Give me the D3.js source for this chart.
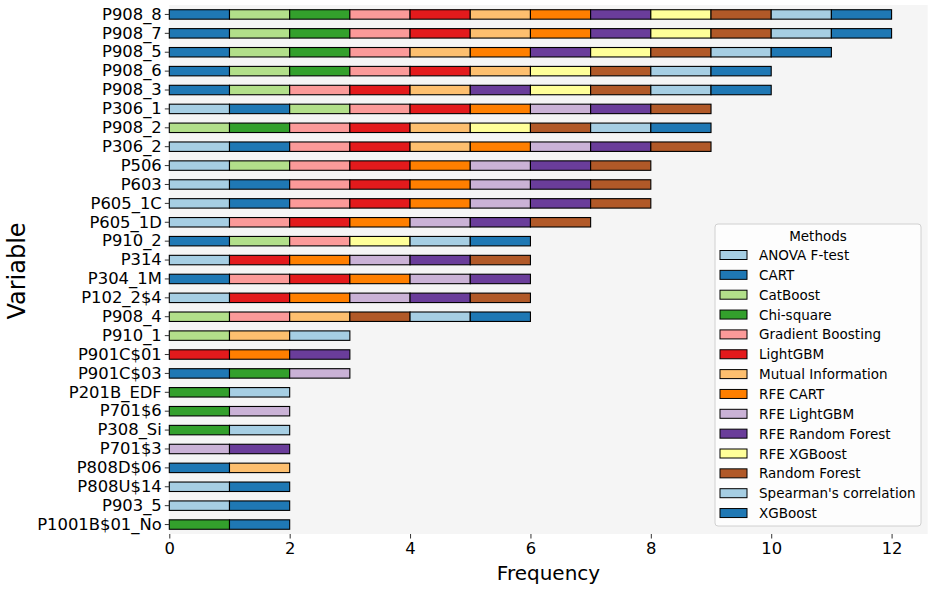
<!DOCTYPE html>
<html>
<head>
<meta charset="utf-8">
<script src="https://cdn.jsdelivr.net/npm/d3@7"></script>
<style>
  body { margin: 0; background: #fff; }
  svg { font-family: "DejaVu Sans", sans-serif; }
</style>
</head>
<body>
<svg id="chart" width="935" height="591"></svg>
<script>
// Feature selection methods (legend order)
const methods = [
  "ANOVA F-test", "CART", "CatBoost", "Chi-square", "Gradient Boosting",
  "LightGBM", "Mutual Information", "RFE CART", "RFE LightGBM",
  "RFE Random Forest", "RFE XGBoost", "Random Forest",
  "Spearman's correlation", "XGBoost"
];

// Variables, top to bottom
const variables = [
  "P908_8", "P908_7", "P908_5", "P908_6", "P908_3", "P306_1", "P908_2",
  "P306_2", "P506", "P603", "P605_1C", "P605_1D", "P910_2", "P314",
  "P304_1M", "P102_2$4", "P908_4", "P910_1", "P901C$01", "P901C$03",
  "P201B_EDF", "P701$6", "P308_Si", "P701$3", "P808D$06", "P808U$14",
  "P903_5", "P1001B$01_No"
];

// Methods that selected each variable (same order as variables)
const selections = [
  ["CART", "CatBoost", "Chi-square", "Gradient Boosting", "LightGBM", "Mutual Information", "RFE CART", "RFE Random Forest", "RFE XGBoost", "Random Forest", "Spearman's correlation", "XGBoost"],
  ["CART", "CatBoost", "Chi-square", "Gradient Boosting", "LightGBM", "Mutual Information", "RFE CART", "RFE Random Forest", "RFE XGBoost", "Random Forest", "Spearman's correlation", "XGBoost"],
  ["CART", "CatBoost", "Chi-square", "Gradient Boosting", "Mutual Information", "RFE CART", "RFE Random Forest", "RFE XGBoost", "Random Forest", "Spearman's correlation", "XGBoost"],
  ["CART", "CatBoost", "Chi-square", "Gradient Boosting", "LightGBM", "Mutual Information", "RFE XGBoost", "Random Forest", "Spearman's correlation", "XGBoost"],
  ["CART", "CatBoost", "Gradient Boosting", "LightGBM", "Mutual Information", "RFE Random Forest", "RFE XGBoost", "Random Forest", "Spearman's correlation", "XGBoost"],
  ["ANOVA F-test", "CART", "CatBoost", "Gradient Boosting", "LightGBM", "RFE CART", "RFE LightGBM", "RFE Random Forest", "Random Forest"],
  ["CatBoost", "Chi-square", "Gradient Boosting", "LightGBM", "Mutual Information", "RFE XGBoost", "Random Forest", "Spearman's correlation", "XGBoost"],
  ["ANOVA F-test", "CART", "Gradient Boosting", "LightGBM", "Mutual Information", "RFE CART", "RFE LightGBM", "RFE Random Forest", "Random Forest"],
  ["ANOVA F-test", "CatBoost", "Gradient Boosting", "LightGBM", "RFE CART", "RFE LightGBM", "RFE Random Forest", "Random Forest"],
  ["ANOVA F-test", "CART", "Gradient Boosting", "LightGBM", "RFE CART", "RFE LightGBM", "RFE Random Forest", "Random Forest"],
  ["ANOVA F-test", "CART", "Gradient Boosting", "LightGBM", "RFE CART", "RFE LightGBM", "RFE Random Forest", "Random Forest"],
  ["ANOVA F-test", "Gradient Boosting", "LightGBM", "RFE CART", "RFE LightGBM", "RFE Random Forest", "Random Forest"],
  ["CART", "CatBoost", "Gradient Boosting", "RFE XGBoost", "Spearman's correlation", "XGBoost"],
  ["ANOVA F-test", "LightGBM", "RFE CART", "RFE LightGBM", "RFE Random Forest", "Random Forest"],
  ["CART", "Gradient Boosting", "LightGBM", "RFE CART", "RFE LightGBM", "RFE Random Forest"],
  ["ANOVA F-test", "LightGBM", "RFE CART", "RFE LightGBM", "RFE Random Forest", "Random Forest"],
  ["CatBoost", "Gradient Boosting", "Mutual Information", "Random Forest", "Spearman's correlation", "XGBoost"],
  ["CatBoost", "Mutual Information", "Spearman's correlation"],
  ["LightGBM", "RFE CART", "RFE Random Forest"],
  ["CART", "Chi-square", "RFE LightGBM"],
  ["Chi-square", "Spearman's correlation"],
  ["Chi-square", "RFE LightGBM"],
  ["Chi-square", "Spearman's correlation"],
  ["RFE LightGBM", "RFE Random Forest"],
  ["CART", "Mutual Information"],
  ["ANOVA F-test", "CART"],
  ["ANOVA F-test", "CART"],
  ["Chi-square", "XGBoost"]
];

const xTicks = [0, 2, 4, 6, 8, 10, 12];

const svg = d3.select("#chart");
const plot = { left: 169.3, right: 927.7, top: 5, bottom: 534 };

const x = d3.scaleLinear().domain([0, 12.6]).range([plot.left, plot.right]);
const y = d3.scaleBand().domain(variables).range([plot.top, plot.bottom])
  .paddingInner(0.5).paddingOuter(0.25);
const color = d3.scaleOrdinal().domain(methods).range(d3.schemePaired);

// plot background
svg.append("rect")
  .attr("x", plot.left).attr("y", plot.top)
  .attr("width", plot.right - plot.left).attr("height", plot.bottom - plot.top)
  .attr("fill", "#f5f5f5");

// flatten into segments
const segments = [];
variables.forEach((v, i) => {
  selections[i].forEach((m, j) => segments.push({ variable: v, method: m, start: j }));
});

svg.append("g").selectAll("rect")
  .data(segments)
  .enter().append("rect")
  .attr("x", d => x(d.start))
  .attr("y", d => y(d.variable))
  .attr("width", d => x(d.start + 1) - x(d.start))
  .attr("height", y.bandwidth())
  .attr("fill", d => color(d.method))
  .attr("stroke", "#000")
  .attr("stroke-width", 1.1);

// axes
const xAxis = svg.append("g")
  .attr("transform", `translate(0,${plot.bottom})`)
  .call(d3.axisBottom(x).tickValues(xTicks).tickSize(4.5).tickPadding(4));
const yAxis = svg.append("g")
  .attr("transform", `translate(${plot.left},0)`)
  .call(d3.axisLeft(y).tickSize(4.5).tickPadding(3));

[xAxis, yAxis].forEach(a => {
  a.select(".domain").remove();
  a.selectAll(".tick line").attr("stroke", "#333").attr("stroke-width", 1);
  a.selectAll(".tick text").attr("fill", "#000")
    .style("font-family", "DejaVu Sans").style("font-size", "16.4px");
});

svg.append("text")
  .attr("x", (plot.left + plot.right) / 2).attr("y", 580)
  .attr("text-anchor", "middle")
  .style("font-size", "20px")
  .text("Frequency");

svg.append("text")
  .attr("transform", "translate(25,271) rotate(-90)")
  .attr("text-anchor", "middle")
  .style("font-size", "24px")
  .text("Variable");

// legend
const lg = svg.append("g").attr("transform", "translate(715,224)");
lg.append("rect")
  .attr("width", 206).attr("height", 302)
  .attr("rx", 3)
  .attr("fill", "#fff").attr("fill-opacity", 0.8)
  .attr("stroke", "#d0d0d0");
lg.append("text")
  .attr("x", 103).attr("y", 16.5)
  .attr("text-anchor", "middle")
  .style("font-size", "13.5px")
  .text("Methods");

const item = lg.selectAll("g.item")
  .data(methods)
  .enter().append("g")
  .attr("class", "item")
  .attr("transform", (d, i) => `translate(0,${31 + i * 19.85})`);
item.append("rect")
  .attr("x", 5).attr("y", -4.5)
  .attr("width", 27).attr("height", 9)
  .attr("fill", d => color(d))
  .attr("stroke", "#000").attr("stroke-width", 1);
item.append("text")
  .attr("x", 44).attr("y", 5)
  .style("font-size", "13.5px")
  .text(d => d);
</script>
</body>
</html>
